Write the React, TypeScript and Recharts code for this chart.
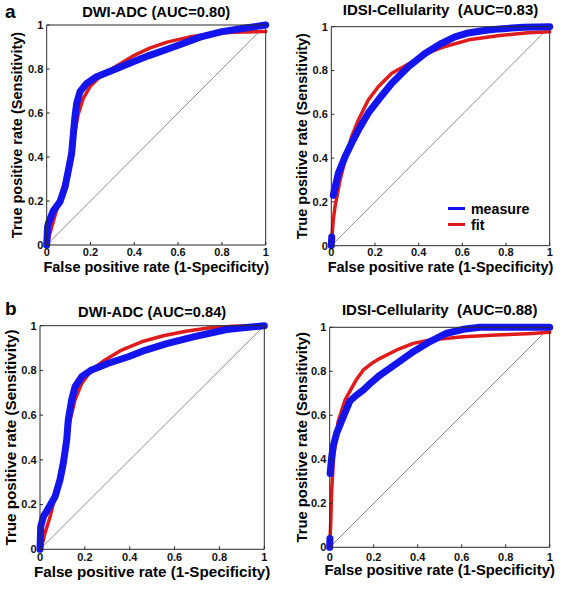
import React from "react";
import { LineChart, Line, XAxis, YAxis, Legend } from "recharts";

// ROC curves: blue = measured, red = binormal fit, grey = chance diagonal
type Pair = [number, number | null];

const TICKS = [0, 0.2, 0.4, 0.6, 0.8, 1];
const TICK_LABELS = ["0", "0.2", "0.4", "0.6", "0.8", "1"];
const DIAGONAL: Pair[] = [[0, 0], [1, 1]];
const SERIES_NAMES = ["measure", "fit"];
const X_TITLE = "False positive rate (1-Specificity)";
const Y_TITLE = "True positive rate (Sensitivity)";
const TITLES = [
  "DWI-ADC (AUC=0.80)",
  "IDSI-Cellularity\u00A0 (AUC=0.83)",
  "DWI-ADC (AUC=0.84)",
  "IDSI-Cellularity\u00A0 (AUC=0.88)",
];

// a) DWI-ADC
const MEASURE_A: Pair[] = [
  [0, 0], [0.004, 0.083], [0.008, 0.1], [0.03, 0.155], [0.061, 0.197], [0.084, 0.265],
  [0.099, 0.34], [0.114, 0.417], [0.122, 0.508], [0.129, 0.583], [0.137, 0.644],
  [0.152, 0.697], [0.183, 0.735], [0.228, 0.765], [0.304, 0.795], [0.395, 0.833],
  [0.47, 0.862], [0.55, 0.89], [0.62, 0.915], [0.7, 0.945], [0.8, 0.97], [0.9, 0.985], [1, 1],
];
const FIT_A: Pair[] = [
  [0, 0], [0.015, 0.053], [0.038, 0.135], [0.061, 0.21], [0.084, 0.295], [0.106, 0.395],
  [0.129, 0.515], [0.144, 0.595], [0.167, 0.667], [0.198, 0.72], [0.243, 0.765],
  [0.304, 0.805], [0.4, 0.862], [0.47, 0.895], [0.55, 0.922], [0.65, 0.945],
  [0.75, 0.96], [0.85, 0.967], [1, 0.97],
];

// a) IDSI-Cellularity
const MEASURE_B: Pair[] = [
  [0, 0], [0.002, 0.04], [0.005, null], [0.009, 0.23], [0.032, 0.33], [0.063, 0.406],
  [0.093, 0.468], [0.124, 0.528], [0.169, 0.605], [0.215, 0.665], [0.277, 0.742],
  [0.353, 0.817], [0.429, 0.878], [0.505, 0.924], [0.566, 0.954], [0.62, 0.97],
  [0.7, 0.983], [0.77, 0.99], [0.88, 0.997], [1, 1],
];
const FIT_B: Pair[] = [
  [0, 0], [0.009, 0.117], [0.017, 0.178], [0.04, 0.3], [0.063, 0.39], [0.093, 0.498],
  [0.124, 0.574], [0.169, 0.665], [0.215, 0.726], [0.277, 0.787], [0.353, 0.83],
  [0.429, 0.875], [0.505, 0.905], [0.63, 0.94], [0.77, 0.96], [0.9, 0.972], [1, 0.977],
];

// b) DWI-ADC
const MEASURE_C: Pair[] = [
  [0, 0], [0.003, 0.1], [0.015, 0.146], [0.037, 0.183], [0.067, 0.235], [0.089, 0.31],
  [0.104, 0.385], [0.119, 0.489], [0.126, 0.578], [0.141, 0.668], [0.156, 0.727],
  [0.186, 0.772], [0.23, 0.802], [0.305, 0.832], [0.394, 0.861], [0.468, 0.89],
  [0.565, 0.92], [0.684, 0.95], [0.832, 0.983], [1, 1],
];
const FIT_C: Pair[] = [
  [0, 0], [0.007, 0.012], [0.022, 0.072], [0.045, 0.146], [0.067, 0.235], [0.089, 0.34],
  [0.111, 0.459], [0.134, 0.578], [0.156, 0.668], [0.186, 0.742], [0.23, 0.802],
  [0.29, 0.847], [0.364, 0.891], [0.453, 0.928], [0.55, 0.955], [0.65, 0.975],
  [0.75, 0.99], [0.85, 0.997], [1, 1],
];

// b) IDSI-Cellularity
const MEASURE_D: Pair[] = [
  [0, 0], [0.001, 0.04], [0.0015, null], [0.002, 0.336], [0.009, 0.41], [0.016, 0.46],
  [0.032, 0.52], [0.062, 0.594], [0.092, 0.665], [0.12, 0.69], [0.153, 0.715],
  [0.19, 0.75], [0.229, 0.783], [0.305, 0.836], [0.38, 0.889], [0.456, 0.935],
  [0.532, 0.973], [0.607, 0.991], [0.683, 1], [0.8, 1], [1, 1],
];
const FIT_D: Pair[] = [
  [0, 0], [0.005, 0.12], [0.009, 0.26], [0.018, 0.41], [0.038, 0.57], [0.07, 0.67],
  [0.092, 0.71], [0.12, 0.76], [0.153, 0.806], [0.19, 0.835], [0.229, 0.859],
  [0.305, 0.897], [0.38, 0.927], [0.456, 0.942], [0.607, 0.957], [0.759, 0.965],
  [0.9, 0.971], [1, 0.977],
];

const FONT = '"Liberation Sans", Arial, Helvetica, sans-serif';
const BLUE = "#1414ee";
const RED = "#e01b1b";
const AXIS = "#2a2a2a";

const toPts = (pairs: Pair[]) => pairs.map(([x, y]) => ({ x, y }));
const fmt = (v: number) => TICK_LABELS[TICKS.indexOf(v)] ?? String(v);

interface PanelCfg {
  left: number;
  top: number;
  width: number;
  height: number;
  plot: { left: number; top: number; right: number; bottom: number };
  title: string;
  titleGap: number;
  titleSize: number;
  axisTitleSize: number;
  yTitleX: number;
  xTitleOffset: number;
  xTickMargin: number;
  measure: Pair[];
  fit: Pair[];
  legend?: boolean;
}

const LegendBox = (props: any) => {
  const items = props.payload || [];
  return (
    <div>
      {SERIES_NAMES.map((name) => {
        const it = items.find((p: any) => p.value === name);
        if (!it) return null;
        return (
          <div key={name} style={{ display: "flex", alignItems: "center", height: 16 }}>
            <span style={{ display: "inline-block", width: 17, height: 3, background: it.color }} />
            <span
              style={{
                marginLeft: 6,
                fontSize: 14.2,
                fontWeight: 700,
                fontFamily: FONT,
                lineHeight: "16px",
                color: "#000",
              }}
            >
              {name}
            </span>
          </div>
        );
      })}
    </div>
  );
};

function Panel({ cfg }: { cfg: PanelCfg }) {
  const { plot } = cfg;
  const margin = { top: plot.top - cfg.top, right: cfg.left + cfg.width - plot.right, bottom: 0, left: 0 };
  const yWidth = plot.left - cfg.left;
  const xHeight = cfg.top + cfg.height - plot.bottom;
  const tickStyle = { fontSize: 11, fontWeight: 700, fill: "#111", fontFamily: FONT };
  const labelStyle = { fontWeight: 700, fill: "#000", fontFamily: FONT };

  return (
    <div style={{ position: "absolute", left: cfg.left, top: cfg.top }}>
      <LineChart width={cfg.width} height={cfg.height} margin={margin}>
        <XAxis
          xAxisId="b"
          type="number"
          dataKey="x"
          domain={[0, 1]}
          ticks={TICKS}
          interval={0}
          tickFormatter={fmt}
          tickSize={-3}
          tickMargin={cfg.xTickMargin}
          height={xHeight}
          stroke={AXIS}
          tick={tickStyle}
          label={{
            value: X_TITLE,
            position: "insideBottom",
            offset: cfg.xTitleOffset,
            fill: "#000",
            style: { ...labelStyle, fontSize: cfg.axisTitleSize },
          }}
        />
        <YAxis
          yAxisId="l"
          type="number"
          domain={[0, 1]}
          ticks={TICKS}
          interval={0}
          tickFormatter={fmt}
          tickSize={-3}
          tickMargin={6.4}
          width={yWidth}
          stroke={AXIS}
          tick={tickStyle}
          label={{
            value: Y_TITLE,
            angle: -90,
            position: "insideLeft",
            offset: cfg.yTitleX,
            fill: "#000",
            style: { ...labelStyle, fontSize: cfg.axisTitleSize, textAnchor: "middle" },
          }}
        />
        <XAxis
          xAxisId="t"
          orientation="top"
          mirror
          type="number"
          dataKey="x"
          domain={[0, 1]}
          ticks={TICKS}
          interval={0}
          tick={false}
          tickSize={3}
          height={20}
          stroke={AXIS}
          allowDataOverflow
          label={{
            value: cfg.title,
            position: "top",
            offset: cfg.titleGap,
            fill: "#000",
            style: { ...labelStyle, fontSize: cfg.titleSize },
          }}
        />
        <YAxis
          yAxisId="r"
          orientation="right"
          mirror
          type="number"
          domain={[0, 1]}
          ticks={TICKS}
          interval={0}
          tick={false}
          tickSize={3}
          width={20}
          stroke={AXIS}
          allowDataOverflow
        />
        <Line
          data={toPts(DIAGONAL)}
          dataKey="y"
          xAxisId="t"
          yAxisId="r"
          stroke="#6e6e6e"
          strokeWidth={0.8}
          dot={false}
          legendType="none"
          isAnimationActive={false}
        />
        <Line
          name="fit"
          data={toPts(cfg.fit)}
          dataKey="y"
          xAxisId="b"
          yAxisId="l"
          stroke={RED}
          strokeWidth={3.5}
          strokeLinecap="round"
          strokeLinejoin="round"
          dot={false}
          isAnimationActive={false}
        />
        <Line
          name="measure"
          data={toPts(cfg.measure)}
          dataKey="y"
          xAxisId="b"
          yAxisId="l"
          stroke={BLUE}
          strokeWidth={7}
          strokeLinecap="round"
          strokeLinejoin="round"
          dot={false}
          isAnimationActive={false}
        />
        {cfg.legend && (
          <Legend
            layout="vertical"
            align="center"
            verticalAlign="middle"
            content={LegendBox}
            wrapperStyle={{ left: 165, top: 200.5, width: "auto", height: "auto" }}
          />
        )}
      </LineChart>
    </div>
  );
}

const PANELS: PanelCfg[] = [
  {
    left: 0, top: 0, width: 283, height: 290,
    plot: { left: 46.7, top: 25, right: 265.7, bottom: 245 },
    title: TITLES[0], titleGap: 8.3, titleSize: 14.7, axisTitleSize: 14.5,
    yTitleX: 17, xTitleOffset: 18, xTickMargin: 6,
    measure: MEASURE_A, fit: FIT_A,
  },
  {
    left: 283, top: 0, width: 284, height: 290,
    plot: { left: 331.3, top: 26.7, right: 549.7, bottom: 245.7 },
    title: TITLES[1], titleGap: 11.7, titleSize: 15, axisTitleSize: 14.5,
    yTitleX: 18.5, xTitleOffset: 18.3, xTickMargin: 5,
    measure: MEASURE_B, fit: FIT_B, legend: true,
  },
  {
    left: 0, top: 290, width: 283, height: 302,
    plot: { left: 40, top: 325.7, right: 264.3, bottom: 549.3 },
    title: TITLES[2], titleGap: 9, titleSize: 14.7, axisTitleSize: 15.2,
    yTitleX: 10.5, xTitleOffset: 14.7, xTickMargin: 6.4,
    measure: MEASURE_C, fit: FIT_C,
  },
  {
    left: 283, top: 290, width: 284, height: 302,
    plot: { left: 329.7, top: 327.3, right: 549.7, bottom: 547.3 },
    title: TITLES[3], titleGap: 12.3, titleSize: 15, axisTitleSize: 14.8,
    yTitleX: 18.5, xTitleOffset: 17, xTickMargin: 8.4,
    measure: MEASURE_D, fit: FIT_D,
  },
];

const PANEL_LETTERS = ["a", "b"];

export default function App() {
  const letterStyle: React.CSSProperties = {
    position: "absolute",
    left: 5,
    fontSize: 19,
    lineHeight: "19px",
    fontWeight: 700,
    fontFamily: FONT,
    color: "#000",
  };
  return (
    <div style={{ position: "absolute", left: 0, top: 0, width: 567, height: 592, background: "#fff" }}>
      {PANELS.map((p, i) => (
        <Panel key={i} cfg={p} />
      ))}
      <div style={{ ...letterStyle, top: 2 }}>{PANEL_LETTERS[0]}</div>
      <div style={{ ...letterStyle, top: 299 }}>{PANEL_LETTERS[1]}</div>
    </div>
  );
}
